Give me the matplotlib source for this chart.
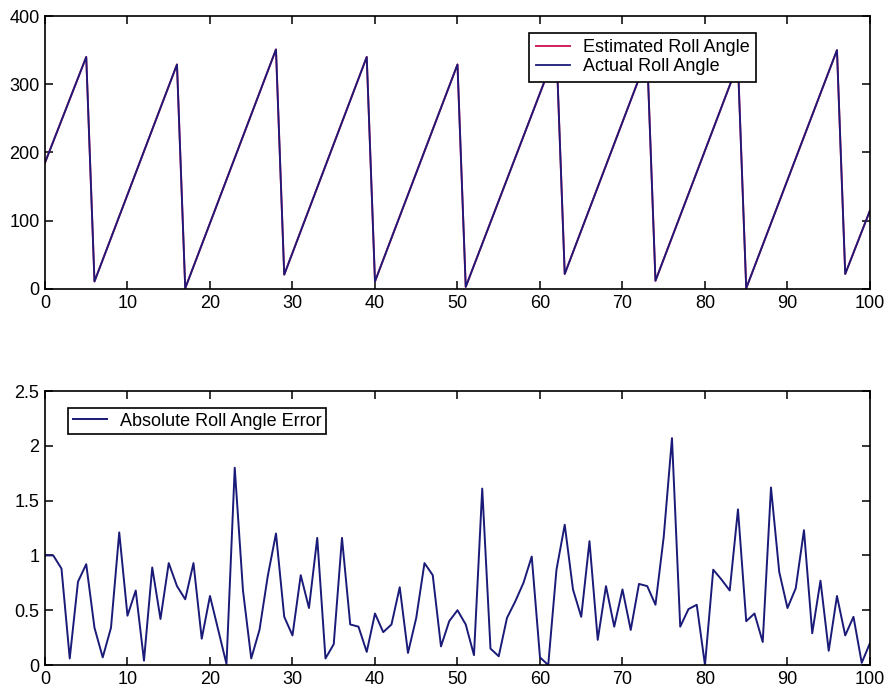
import matplotlib.pyplot as plt

plt.rcParams['font.family'] = ['Liberation Sans', 'DejaVu Sans']

# top panel: roll angle (deg), vertices of the sawtooth
roll_t = [0, 5, 6, 16, 17, 28, 29, 39, 40, 50, 51, 62, 63, 73, 74, 84, 85, 96, 97, 100]
roll_actual = [185, 340, 11, 329, 1, 351, 21, 340, 11, 329, 3, 350, 22, 340, 12, 330, 1, 350, 22, 115]
roll_est = [185, 340, 11, 329, 1, 351, 21, 340, 11, 329, 3, 350, 22, 340, 12, 330, 1, 350, 22, 115]

# bottom panel: absolute error at each step
err_t = list(range(101))
err = [1.00, 1.00, 0.88, 0.06, 0.76, 0.92, 0.34, 0.07, 0.34, 1.21,
       0.45, 0.68, 0.04, 0.89, 0.42, 0.93, 0.72, 0.60, 0.93, 0.24,
       0.63, 0.32, 0.01, 1.80, 0.68, 0.06, 0.32, 0.81, 1.20, 0.44,
       0.27, 0.82, 0.52, 1.16, 0.06, 0.19, 1.16, 0.37, 0.35, 0.12,
       0.47, 0.30, 0.37, 0.71, 0.11, 0.43, 0.93, 0.82, 0.17, 0.40,
       0.50, 0.37, 0.09, 1.61, 0.15, 0.08, 0.43, 0.58, 0.75, 0.99,
       0.07, 0.00, 0.87, 1.28, 0.69, 0.44, 1.13, 0.23, 0.72, 0.35,
       0.69, 0.32, 0.74, 0.72, 0.55, 1.17, 2.07, 0.35, 0.51, 0.55,
       0.00, 0.87, 0.78, 0.68, 1.42, 0.40, 0.47, 0.21, 1.62, 0.85,
       0.52, 0.70, 1.23, 0.29, 0.77, 0.13, 0.63, 0.27, 0.44, 0.02,
       0.20]

xticks = list(range(0, 101, 10))
top_yticks = [0, 100, 200, 300, 400]
bot_yticks = [0, 0.5, 1, 1.5, 2, 2.5]
bot_ylabels = ['0', '0.5', '1', '1.5', '2', '2.5']

navy = '#1a1a78'
red = '#d0205a'

fig = plt.figure(figsize=(8.89, 6.99), dpi=100)
ax1 = fig.add_axes([0.0506, 0.5866, 0.928, 0.3905])
ax2 = fig.add_axes([0.0506, 0.0486, 0.928, 0.392])

ax1.plot(roll_t, roll_est, color=red, lw=1.4, label='Estimated Roll Angle')
ax1.plot(roll_t, roll_actual, color=navy, lw=1.3, label='Actual Roll Angle')
ax1.set_xlim(0, 100)
ax1.set_ylim(0, 400)
ax1.set_yticks(top_yticks)
leg1 = ax1.legend(loc='upper left', bbox_to_anchor=(0.587, 0.938), borderaxespad=0,
                  fancybox=False, framealpha=1, edgecolor='black', fontsize=13,
                  handlelength=1.9, borderpad=0.35, labelspacing=0.12, handletextpad=0.7)
leg1.get_frame().set_linewidth(1.2)

ax2.plot(err_t, err, color=navy, lw=1.4, label='Absolute Roll Angle Error')
ax2.set_xlim(0, 100)
ax2.set_ylim(0, 2.5)
ax2.set_yticks(bot_yticks)
ax2.set_yticklabels(bot_ylabels)
leg2 = ax2.legend(loc='upper left', bbox_to_anchor=(0.028, 0.938), borderaxespad=0,
                  fancybox=False, framealpha=1, edgecolor='black', fontsize=13,
                  handlelength=1.9, borderpad=0.25, handletextpad=0.7)
leg2.get_frame().set_linewidth(1.2)

for ax in (ax1, ax2):
    ax.set_xticks(xticks)
    ax.tick_params(direction='in', top=True, right=True, length=6, width=1.1,
                   labelsize=13, pad=4)
    for s in ax.spines.values():
        s.set_linewidth(1.2)

fig.savefig('out.png', dpi=100)
